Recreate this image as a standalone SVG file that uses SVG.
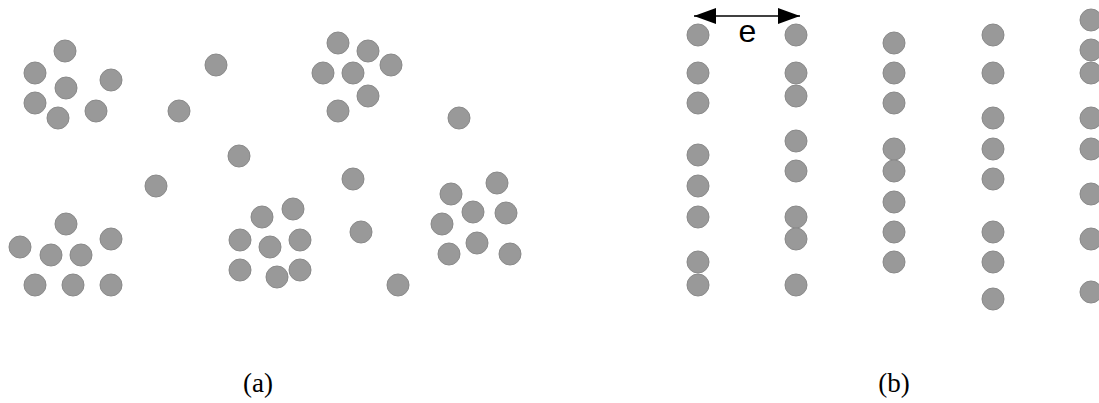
<svg xmlns="http://www.w3.org/2000/svg" width="1099" height="403" viewBox="0 0 1099 403">
<style>
.p{fill:#999999;stroke:#8a8a8a;stroke-width:1}
.lbl{font-family:"Liberation Serif","Times New Roman",serif;font-size:27px;fill:#000;text-anchor:middle}
.e{font-family:"Liberation Sans",Arial,sans-serif;font-size:32px;fill:#000;text-anchor:middle}
</style>
<defs>
<marker id="ah" markerWidth="22" markerHeight="16" refX="22" refY="8" orient="auto-start-reverse" markerUnits="userSpaceOnUse">
<path d="M0,0 L22,8 L0,16 Z" fill="#000"/>
</marker>
</defs>
<g id="panel-a">
<circle class="p" cx="65" cy="51" r="11"/>
<circle class="p" cx="35" cy="73" r="11"/>
<circle class="p" cx="66" cy="88" r="11"/>
<circle class="p" cx="111" cy="80" r="11"/>
<circle class="p" cx="35" cy="103" r="11"/>
<circle class="p" cx="58" cy="118" r="11"/>
<circle class="p" cx="96" cy="111" r="11"/>
<circle class="p" cx="216" cy="65" r="11"/>
<circle class="p" cx="179" cy="111" r="11"/>
<circle class="p" cx="338" cy="43" r="11"/>
<circle class="p" cx="368" cy="51" r="11"/>
<circle class="p" cx="323" cy="73" r="11"/>
<circle class="p" cx="353" cy="73" r="11"/>
<circle class="p" cx="391" cy="65" r="11"/>
<circle class="p" cx="368" cy="96" r="11"/>
<circle class="p" cx="338" cy="111" r="11"/>
<circle class="p" cx="459" cy="118" r="11"/>
<circle class="p" cx="239" cy="156" r="11"/>
<circle class="p" cx="156" cy="186" r="11"/>
<circle class="p" cx="353" cy="179" r="11"/>
<circle class="p" cx="66" cy="224" r="11"/>
<circle class="p" cx="20" cy="247" r="11"/>
<circle class="p" cx="51" cy="255" r="11"/>
<circle class="p" cx="81" cy="255" r="11"/>
<circle class="p" cx="111" cy="239" r="11"/>
<circle class="p" cx="35" cy="285" r="11"/>
<circle class="p" cx="73" cy="285" r="11"/>
<circle class="p" cx="111" cy="285" r="11"/>
<circle class="p" cx="262" cy="217" r="11"/>
<circle class="p" cx="293" cy="209" r="11"/>
<circle class="p" cx="240" cy="240" r="11"/>
<circle class="p" cx="270" cy="247" r="11"/>
<circle class="p" cx="300" cy="240" r="11"/>
<circle class="p" cx="240" cy="270" r="11"/>
<circle class="p" cx="277" cy="277" r="11"/>
<circle class="p" cx="300" cy="270" r="11"/>
<circle class="p" cx="361" cy="232" r="11"/>
<circle class="p" cx="398" cy="285" r="11"/>
<circle class="p" cx="451" cy="194" r="11"/>
<circle class="p" cx="497" cy="183" r="11"/>
<circle class="p" cx="473" cy="212" r="11"/>
<circle class="p" cx="506" cy="213" r="11"/>
<circle class="p" cx="442" cy="224" r="11"/>
<circle class="p" cx="477" cy="243" r="11"/>
<circle class="p" cx="449" cy="254" r="11"/>
<circle class="p" cx="510" cy="254" r="11"/>
</g>
<g id="panel-b">
<g id="col1">
<circle class="p" cx="698" cy="35" r="11"/>
<circle class="p" cx="698" cy="73" r="11"/>
<circle class="p" cx="698" cy="103" r="11"/>
<circle class="p" cx="698" cy="155" r="11"/>
<circle class="p" cx="698" cy="186" r="11"/>
<circle class="p" cx="698" cy="217" r="11"/>
<circle class="p" cx="698" cy="262" r="11"/>
<circle class="p" cx="698" cy="285" r="11"/>
</g>
<g id="col2">
<circle class="p" cx="796" cy="35" r="11"/>
<circle class="p" cx="796" cy="73" r="11"/>
<circle class="p" cx="796" cy="96" r="11"/>
<circle class="p" cx="796" cy="141" r="11"/>
<circle class="p" cx="796" cy="171" r="11"/>
<circle class="p" cx="796" cy="217" r="11"/>
<circle class="p" cx="796" cy="239" r="11"/>
<circle class="p" cx="796" cy="285" r="11"/>
</g>
<g id="col3">
<circle class="p" cx="894" cy="43" r="11"/>
<circle class="p" cx="894" cy="73" r="11"/>
<circle class="p" cx="894" cy="103" r="11"/>
<circle class="p" cx="894" cy="149" r="11"/>
<circle class="p" cx="894" cy="171" r="11"/>
<circle class="p" cx="894" cy="202" r="11"/>
<circle class="p" cx="894" cy="232" r="11"/>
<circle class="p" cx="894" cy="262" r="11"/>
</g>
<g id="col4">
<circle class="p" cx="993" cy="35" r="11"/>
<circle class="p" cx="993" cy="73" r="11"/>
<circle class="p" cx="993" cy="118" r="11"/>
<circle class="p" cx="993" cy="149" r="11"/>
<circle class="p" cx="993" cy="179" r="11"/>
<circle class="p" cx="993" cy="232" r="11"/>
<circle class="p" cx="993" cy="262" r="11"/>
<circle class="p" cx="993" cy="299" r="11"/>
</g>
<g id="col5">
<circle class="p" cx="1091" cy="20" r="11"/>
<circle class="p" cx="1091" cy="50" r="11"/>
<circle class="p" cx="1091" cy="73" r="11"/>
<circle class="p" cx="1091" cy="118" r="11"/>
<circle class="p" cx="1091" cy="149" r="11"/>
<circle class="p" cx="1091" cy="194" r="11"/>
<circle class="p" cx="1091" cy="239" r="11"/>
<circle class="p" cx="1091" cy="292" r="11"/>
</g>
</g>
<g id="connectors">
<line x1="694" y1="16" x2="800" y2="16" stroke="#000" stroke-width="1.5" marker-start="url(#ah)" marker-end="url(#ah)"/>
</g>
<g id="label-e"><text class="e" x="747.5" y="42">e</text></g>
<g id="label-a"><text class="lbl" x="258" y="392">(a)</text></g>
<g id="label-b"><text class="lbl" x="894" y="392">(b)</text></g>
</svg>
